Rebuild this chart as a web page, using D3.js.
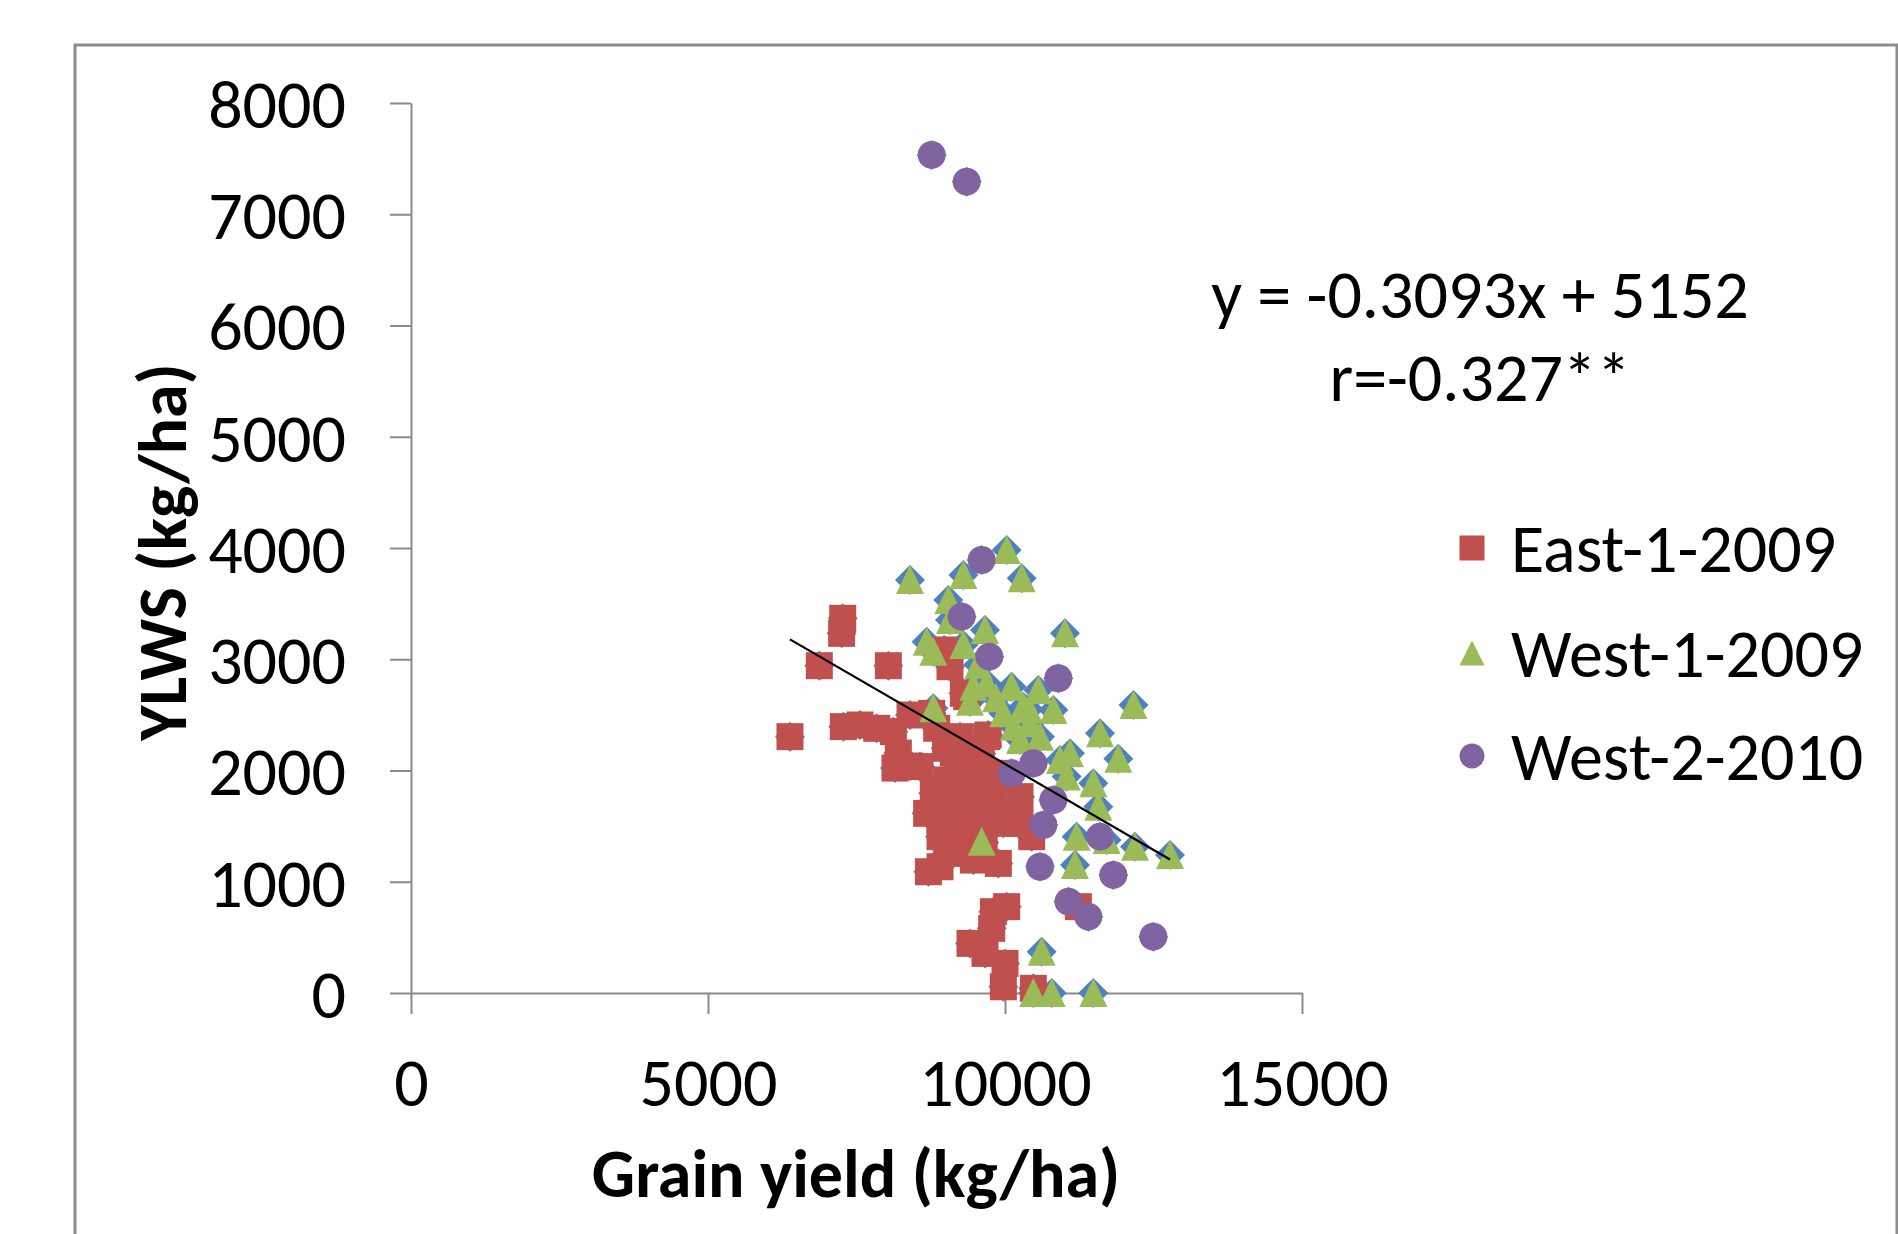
<!DOCTYPE html>
<html>
<head>
<meta charset="utf-8">
<script src="https://cdn.jsdelivr.net/npm/d3@7"></script>
<style>
  html, body { margin: 0; padding: 0; background: #fff; }
  svg { display: block; }
  text { font-family: Calibri, Carlito, Lato, "Open Sans", sans-serif; fill: #000; }
</style>
</head>
<body>
<svg width="1898" height="1234"></svg>
<script>
// ---- data: [grain yield, YLWS] ----
const east1_2009 = [
  [7268, 3368], [7250, 3233], [6874, 2942], [8036, 2942], [6380, 2304],
  [7278, 2394], [7559, 2409], [7840, 2379], [8120, 2349], [8401, 2499],
  [8766, 2514], [8973, 3083], [9074, 2933], [9299, 2694], [9355, 2663],
  [9717, 2319], [8204, 2157], [8569, 2035], [8148, 2022], [9130, 2157],
  [9018, 1915], [8793, 1795], [8681, 1615], [8906, 1555], [9242, 1585],
  [9467, 1705], [9804, 1765], [9804, 1975], [10253, 1765], [9972, 1525],
  [10253, 1525], [10449, 1405], [8906, 1405], [9018, 1255], [8710, 1090],
  [9467, 1195], [9888, 1165], [8906, 1135], [9186, 1975], [9467, 2094],
  [9692, 2304], [9242, 2304], [9579, 1915], [8400, 2040], [8850, 2380],
  [9000, 2200], [9350, 2050], [9600, 2150], [9150, 1750], [9350, 1450],
  [9700, 1550], [10100, 1600], [9300, 1300], [9650, 1350], [10000, 1950],
  [10028, 776], [9804, 731], [9776, 581], [9411, 446], [9663, 356],
  [10000, 266], [9972, 56], [10477, 42], [11235, 776]
];

const west1_2009 = [
  [8401, 3712], [10028, 3982], [10281, 3727], [9299, 3757], [9046, 3533],
  [9074, 3353], [8681, 3158], [8793, 3068], [9663, 3263], [9299, 3128],
  [11010, 3233], [9467, 2753], [9692, 2784], [10111, 2753], [10561, 2724],
  [9411, 2619], [8793, 2559], [9972, 2514], [10309, 2574], [10815, 2544],
  [12163, 2589], [10146, 2394], [10421, 2424], [10589, 2304], [10253, 2274],
  [11599, 2334], [11094, 2154], [10926, 2094], [11908, 2106], [11487, 1885],
  [11038, 1945], [11571, 1675], [11206, 1405], [11711, 1375], [12189, 1315],
  [12778, 1240], [11178, 1150], [9607, 1360], [10617, 371], [10477, 0],
  [10786, 0], [11487, 0], [9550, 2950], [9850, 2650], [10400, 2550]
];

const west2_2010 = [
  [8766, 7533], [9355, 7293], [9607, 3892], [9271, 3383], [9736, 3023],
  [10898, 2829], [10477, 2065], [10112, 1975], [10814, 1735], [10646, 1510],
  [11599, 1405], [10589, 1135], [11824, 1061], [11069, 821], [11403, 686],
  [12497, 506]
];

const seriesNames = ["East-1-2009", "West-1-2009", "West-2-2010"];
const seriesColors = ["#C0504D", "#9BBB59", "#8064A2"];
const xTicks = [0, 5000, 10000, 15000];
const yTicks = [0, 1000, 2000, 3000, 4000, 5000, 6000, 7000, 8000];
const trendSlope = -0.3093, trendIntercept = 5152;
const equationText = "y = -0.3093x + 5152";
const rText = "r=-0.327**";

const svg = d3.select("svg");
const fontSize = 68;

// outer chart border
svg.append("path")
  .attr("d", "M75,1234V45H1897V1234")
  .attr("fill", "none")
  .attr("stroke", "#8c8c8c")
  .attr("stroke-width", 3);

const x = d3.scaleLinear().domain([0, 15000]).range([411, 1302]);
const y = d3.scaleLinear().domain([0, 8000]).range([993, 103]);

const axisColor = "#8a8a8a";

// --- axes ---
const yAxis = svg.append("g")
  .attr("transform", `translate(${x(0)},0)`)
  .call(d3.axisLeft(y).tickValues(yTicks).tickSize(21).tickSizeOuter(0).tickPadding(44).tickFormat(d3.format("d")));

const xAxis = svg.append("g")
  .attr("transform", `translate(0,${y(0)})`)
  .call(d3.axisBottom(x).tickValues(xTicks).tickSize(21).tickSizeOuter(0).tickPadding(44).tickFormat(d3.format("d")));

[xAxis, yAxis].forEach(a => {
  a.select(".domain").attr("stroke", axisColor).attr("stroke-width", 2);
  a.selectAll(".tick line").attr("stroke", axisColor).attr("stroke-width", 2);
  a.selectAll(".tick text").attr("font-size", fontSize).attr("fill", "#000")
    .style("font-family", "Calibri, Carlito, Lato, 'Open Sans', sans-serif");
});
yAxis.selectAll(".tick text").attr("dy", "0.36em");
xAxis.selectAll(".tick text").attr("dy", "0.71em");

// axis titles
svg.append("text")
  .attr("x", 856).attr("y", 1197)
  .attr("text-anchor", "middle")
  .attr("font-size", fontSize).attr("font-weight", "bold")
  .text("Grain yield (kg/ha)");

svg.append("text")
  .attr("transform", "translate(186,552) rotate(-90)")
  .attr("text-anchor", "middle")
  .attr("font-size", fontSize).attr("font-weight", "bold")
  .text("YLWS (kg/ha)");

// --- markers ---
const all = [...east1_2009, ...west1_2009, ...west2_2010];

// combined series (blue diamonds, mostly hidden) used for the trend line
svg.append("g").selectAll("path")
  .data(all)
  .enter().append("path")
  .attr("transform", d => `translate(${x(d[0])},${y(d[1])})`)
  .attr("d", "M0,-15L15,0L0,15L-15,0Z")
  .attr("fill", "#4F81BD");

svg.append("g").selectAll("rect")
  .data(east1_2009)
  .enter().append("rect")
  .attr("x", d => x(d[0]) - 13.5)
  .attr("y", d => y(d[1]) - 13.5)
  .attr("width", 27).attr("height", 27)
  .attr("fill", seriesColors[0]);

svg.append("g").selectAll("path")
  .data(west1_2009)
  .enter().append("path")
  .attr("transform", d => `translate(${x(d[0])},${y(d[1])})`)
  .attr("d", "M0,-15L14,14L-14,14Z")
  .attr("fill", seriesColors[1]);

svg.append("g").selectAll("circle")
  .data(west2_2010)
  .enter().append("circle")
  .attr("cx", d => x(d[0]))
  .attr("cy", d => y(d[1]))
  .attr("r", 14)
  .attr("fill", seriesColors[2]);

// linear trend line over the whole data range
const xExt = d3.extent(all, d => d[0]);
svg.append("line")
  .attr("x1", x(xExt[0])).attr("y1", y(trendSlope * xExt[0] + trendIntercept))
  .attr("x2", x(xExt[1])).attr("y2", y(trendSlope * xExt[1] + trendIntercept))
  .attr("stroke", "#000")
  .attr("stroke-width", 2.2);

// equation label
svg.append("text")
  .attr("x", 1480).attr("y", 318)
  .attr("text-anchor", "middle")
  .attr("font-size", fontSize)
  .text(equationText);
svg.append("text")
  .attr("x", 1480).attr("y", 401)
  .attr("text-anchor", "middle")
  .attr("font-size", fontSize)
  .text(rText);

// --- legend ---
const legend = svg.append("g");
const legendY = [548, 653, 756];
seriesNames.forEach((name, i) => {
  const g = legend.append("g").attr("transform", `translate(1472,${legendY[i]})`);
  if (i === 0) {
    g.append("rect").attr("x", -12.5).attr("y", -12.5).attr("width", 25).attr("height", 25).attr("fill", seriesColors[i]);
  } else if (i === 1) {
    g.append("path").attr("d", "M0,-12.5L12.5,12.5L-12.5,12.5Z").attr("fill", seriesColors[i]);
  } else {
    g.append("circle").attr("r", 12.5).attr("fill", seriesColors[i]);
  }
  g.append("text")
    .attr("x", 39).attr("y", 0).attr("dy", "0.36em")
    .attr("font-size", fontSize)
    .text(name);
});
</script>
</body>
</html>
